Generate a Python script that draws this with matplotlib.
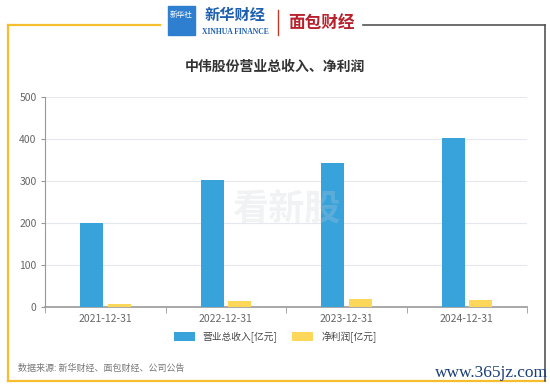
import numpy as np
import matplotlib.pyplot as plt
from matplotlib.patches import Rectangle
from matplotlib.lines import Line2D

plt.rcParams['font.family'] = ['Noto Sans CJK SC', 'DejaVu Sans']

years = ['2021-12-31', '2022-12-31', '2023-12-31', '2024-12-31']
revenue = [200.2, 303.4, 342.7, 402.2]
profit = [7.5, 13.5, 19.3, 16.5]
yticks = [0, 100, 200, 300, 400, 500]
labels = ['营业总收入[亿元]', '净利润[亿元]']

blue = '#38a2db'
yellow = '#fdd75a'

fig = plt.figure(figsize=(5.5, 3.89), dpi=100)

# frame around the chart
def line(xs, ys, c, lw=1.6):
    fig.add_artist(Line2D(np.array(xs) / 550, 1 - np.array(ys) / 389, color=c, lw=lw,
                          transform=fig.transFigure))

line([8, 160], [25, 25], '#f6be2c')
line([8, 8], [25, 381], '#f6be2c')
line([8, 545], [381, 381], '#f6be2c')
line([363, 545], [25, 25], '#555555', 1.2)
line([545, 545], [25, 381], '#555555', 1.2)

# header logos (text approximation)
fig.add_artist(Rectangle((168 / 550, 1 - 35 / 389), 27 / 550, 29 / 389, transform=fig.transFigure,
                         color='#2f7fd0', zorder=3))
fig.text(181.5 / 550, 1 - 15 / 389, '新华社', color='white', fontsize=5.5, ha='center', va='center')
fig.text(235 / 550, 1 - 15 / 389, '新华财经', color='#1f5fb0', fontsize=11, fontweight='bold',
         ha='center', va='center', style='italic')
fig.text(235 / 550, 1 - 32 / 389, 'XINHUA FINANCE', color='#1f5fb0', fontsize=5.5, fontweight='bold',
         ha='center', va='center', family=['Liberation Serif'])
line([278, 278], [10, 35], '#c0392b', 1.0)
fig.text(321 / 550, 1 - 23 / 389, '面包财经', color='#b8212c', fontsize=12, fontweight='bold',
         ha='center', va='center')

fig.text(275 / 550, 1 - 67 / 389, '中伟股份营业总收入、净利润', fontsize=10, fontweight='bold',
         color='#333333', ha='center', va='center')

ax = fig.add_axes([45 / 550, 1 - 307 / 389, 482 / 550, 210 / 389])
x = np.arange(len(years))
w = 0.19
ax.bar(x - 0.112, revenue, w, color=blue, label=labels[0], zorder=3)
ax.bar(x + 0.116, profit, w, color=yellow, label=labels[1], zorder=3)

ax.set_xlim(-0.5, 3.5)
ax.set_ylim(0, 500)
ax.set_yticks(yticks)
ax.set_xticks(x)
ax.set_xticklabels(years)
ax.set_xticks(np.arange(-0.5, 4.0, 1.0), minor=True)
ax.tick_params(axis='x', which='major', length=0, labelsize=7.5, labelcolor='#666666', pad=5)
ax.tick_params(axis='x', which='minor', length=4, color='#999999')
ax.tick_params(axis='y', length=3, color='#999999', labelsize=7.5, labelcolor='#666666', pad=3)
ax.grid(axis='y', color='#e6e8ef', lw=0.8, zorder=0)
for s in ['top', 'right']:
    ax.spines[s].set_visible(False)
ax.spines['left'].set_color('#999999')
ax.spines['bottom'].set_color('#999999')
ax.spines['bottom'].set_linewidth(1.2)

# faint watermark
ax.text(1.5, 230, '看新股', fontsize=26, fontweight='bold', style='italic', color='#c8ccd4',
        alpha=0.25, ha='center', va='center', zorder=4)

fig.legend(loc='center', bbox_to_anchor=(275 / 550, 1 - 337 / 389), ncol=2, frameon=False,
           fontsize=7, handlelength=2.2, handleheight=1.0, columnspacing=1.5, labelcolor='#444444')

fig.text(18 / 550, 1 - 368 / 389, '数据来源: 新华财经、面包财经、公司公告', fontsize=6.5, color='#777777',
         ha='left', va='center')
fig.text(548 / 550, 1 - 373 / 389, 'www.365jz.com', fontsize=12.5, color='#1a3f7a', ha='right', va='center',
         family=['Liberation Serif'])

fig.savefig('out.png', dpi=100)
